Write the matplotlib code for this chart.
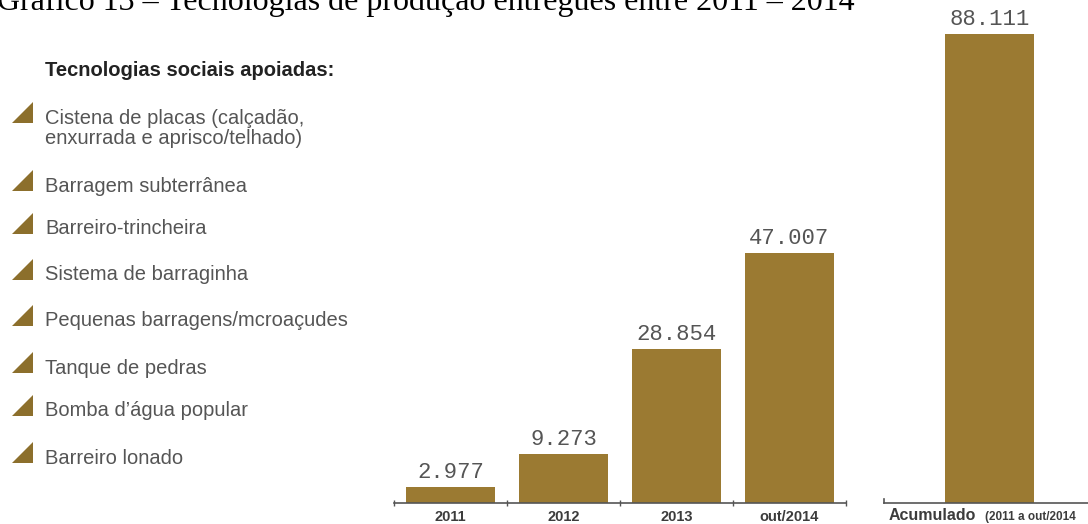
import matplotlib
matplotlib.use("Agg")
import matplotlib.pyplot as plt
from matplotlib.patches import Polygon

# Data
periods = ["2011", "2012", "2013", "out/2014"]
delivered = [2977, 9273, 28854, 47007]
total_label = "Acumulado"
total_note = "(2011 a out/2014"
total_value = 88111
value_texts = ["2.977", "9.273", "28.854", "47.007"]
total_text = "88.111"
legend_title = "Tecnologias sociais apoiadas:"
technologies = [
    "Cistena de placas (calçadão,\nenxurrada e aprisco/telhado)",
    "Barragem subterrânea",
    "Barreiro-trincheira",
    "Sistema de barraginha",
    "Pequenas barragens/mcroaçudes",
    "Tanque de pedras",
    "Bomba d’água popular",
    "Barreiro lonado",
]
title = "Gráfico 13 – Tecnologias de produção entregues entre 2011 – 2014"

W, H = 1088, 524
BAR = "#9b7a32"
TRI = "#8c6f2c"
LABEL = "#555555"
TICK = "#3c3c3c"

fig = plt.figure(figsize=(W / 100, H / 100), dpi=100)


def px_axes(left, top, right, bottom):
    return fig.add_axes([left / W, 1 - bottom / H, (right - left) / W, (bottom - top) / H])


# Overlay for the free text and legend glyphs (pixel coordinates)
ov = px_axes(0, 0, W, H)
ov.set_xlim(0, W)
ov.set_ylim(H, 0)
ov.axis("off")

ov.text(-3, 10, title, family="Liberation Serif", fontsize=23, color="#000000",
        ha="left", va="baseline")

ov.text(45, 71, legend_title, family="Liberation Sans", fontsize=14.5,
        fontweight="bold", color="#222222", ha="left", va="center")

row_y = [117, 185, 228, 274, 320, 367, 410, 457]
for y, name in zip(row_y, technologies):
    ov.add_patch(Polygon([[12, y + 6], [33, y + 6], [33, y - 15]], closed=True,
                         facecolor=TRI, edgecolor="none"))
    ov.text(45, y - 8.5, name, family="Liberation Sans", fontsize=14.5,
            color=LABEL, ha="left", va="top", linespacing=1.12)

# Yearly bars
scale = 5.32 / 1000.0  # pixels per unit
base = 503
ax = px_axes(394, base - 50000 * scale, 846, base)
x = list(range(len(periods)))
ax.bar(x, delivered, width=0.79, color=BAR)
ax.set_xlim(-0.5, len(periods) - 0.5)
ax.set_ylim(0, 50000)
for xi, v, t in zip(x, delivered, value_texts):
    ax.annotate(t, (xi, v), xytext=(0, 3), textcoords="offset points",
                ha="center", va="bottom", family="Liberation Mono",
                fontsize=16, color=LABEL)
ax.set_xticks(x)
ax.set_xticklabels(periods, family="Liberation Sans", fontweight="bold",
                   fontsize=10.5, color=TICK)
ax.tick_params(axis="x", which="major", length=0, pad=5)
ax.set_xticks([i - 0.5 for i in range(len(periods) + 1)], minor=True)
ax.tick_params(axis="x", which="minor", length=4, direction="inout",
               color="#555555", width=1)
ax.set_yticks([])
for s in ["left", "right", "top"]:
    ax.spines[s].set_visible(False)
ax.spines["bottom"].set_color("#555555")
ax.spines["bottom"].set_linewidth(1.2)

# Accumulated bar
ax2 = px_axes(884, base - 90000 * scale, 1100, base)
ax2.bar([0], [total_value], width=89, color=BAR, align="center")
ax2.set_xlim(-105.5, 110.5)
ax2.set_ylim(0, 90000)
ax2.annotate(total_text, (0, total_value), xytext=(0, 3), textcoords="offset points",
             ha="center", va="bottom", family="Liberation Mono",
             fontsize=16, color=LABEL)
ax2.set_xticks([])
ax2.set_yticks([])
for s in ["left", "right", "top"]:
    ax2.spines[s].set_visible(False)
ax2.spines["bottom"].set_color("#555555")
ax2.spines["bottom"].set_linewidth(1.2)
ax2.plot([-105.5, -105.5], [0, 800], color="#555555", lw=1.2, clip_on=False)

ov.text(889, 516, total_label, family="Liberation Sans", fontweight="bold",
        fontsize=11.5, color=TICK, ha="left", va="center")
ov.text(985, 517, total_note, family="Liberation Sans", fontweight="bold",
        fontsize=8.5, color=TICK, ha="left", va="center")

fig.savefig("out.png", dpi=100)
